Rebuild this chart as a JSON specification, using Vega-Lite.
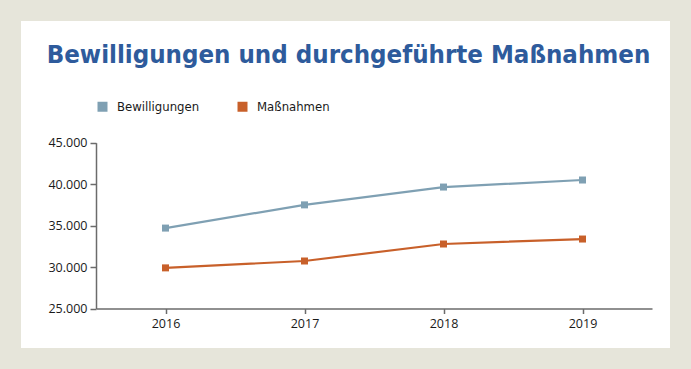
{
  "$schema": "https://vega.github.io/schema/vega-lite/v6.json",
  "width": 649,
  "height": 327,
  "autosize": {"type": "none"},
  "padding": {"left": 21, "top": 21, "right": 21, "bottom": 21},
  "background": "#e6e5da",
  "config": {
    "view": {"fill": "white", "stroke": null},
    "locale": {"number": {"decimal": ",", "thousands": ".", "grouping": [3], "currency": ["", " €"]}}
  },
  "title": {
    "text": "Bewilligungen und durchgeführte Maßnahmen",
    "font": "DejaVu Sans Condensed",
    "fontSize": 25.6,
    "fontWeight": "bold",
    "color": "#2e5b9c",
    "anchor": "middle",
    "frame": "group",
    "baseline": "alphabetic",
    "offset": -68,
    "dx": 3
  },
  "data": {
    "values": [
      {"Jahr": "2016", "Reihe": "Bewilligungen", "Wert": 34700},
      {"Jahr": "2017", "Reihe": "Bewilligungen", "Wert": 37500},
      {"Jahr": "2018", "Reihe": "Bewilligungen", "Wert": 39650},
      {"Jahr": "2019", "Reihe": "Bewilligungen", "Wert": 40500},
      {"Jahr": "2016", "Reihe": "Maßnahmen", "Wert": 29900},
      {"Jahr": "2017", "Reihe": "Maßnahmen", "Wert": 30730},
      {"Jahr": "2018", "Reihe": "Maßnahmen", "Wert": 32780},
      {"Jahr": "2019", "Reihe": "Maßnahmen", "Wert": 33380}
    ]
  },
  "mark": {"type": "line", "strokeWidth": 2.2, "point": {"shape": "square", "size": 49, "filled": true, "opacity": 1}},
  "encoding": {
    "x": {
      "field": "Jahr", "type": "ordinal",
      "scale": {"type": "point", "range": [75, 631], "padding": 0.5},
      "axis": {
        "title": null, "labelAngle": 0, "offset": -39.5,
        "domainColor": "#6b6b6b", "domainWidth": 1.5,
        "tickColor": "#6b6b6b", "tickWidth": 1.5, "tickSize": 5,
        "labelFont": "Open Sans", "labelFontSize": 12.5, "labelColor": "#1a1a1a", "labelPadding": 4
      }
    },
    "y": {
      "field": "Wert", "type": "quantitative",
      "scale": {"domain": [25000, 45000], "range": [287.5, 121.7], "nice": false, "zero": false},
      "axis": {
        "title": null, "values": [25000, 30000, 35000, 40000, 45000], "format": ",.0f",
        "offset": -75, "grid": false,
        "domainColor": "#6b6b6b", "domainWidth": 1.5,
        "tickColor": "#6b6b6b", "tickWidth": 1.5, "tickSize": 6,
        "labelFont": "Open Sans", "labelFontSize": 12.5, "labelColor": "#1a1a1a", "labelPadding": 3
      }
    },
    "color": {
      "field": "Reihe", "type": "nominal",
      "scale": {"domain": ["Bewilligungen", "Maßnahmen"], "range": ["#7fa0b3", "#c8602a"]},
      "legend": {
        "title": null, "orient": "none", "direction": "horizontal",
        "legendX": 75, "legendY": 79,
        "symbolType": "square", "symbolSize": 100, "symbolStrokeWidth": 0,
        "labelFont": "DejaVu Sans Condensed", "labelFontSize": 13, "labelColor": "#1a1a1a",
        "labelOffset": 8, "columnPadding": 36
      }
    }
  }
}
